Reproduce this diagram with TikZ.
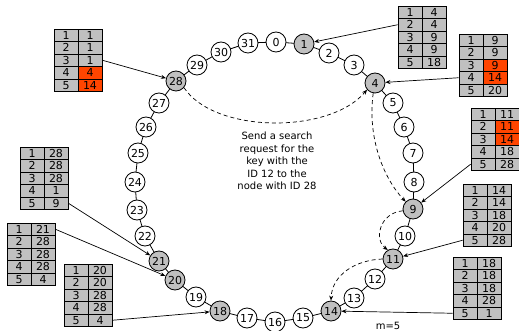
\documentclass[tikz,border=0pt]{standalone}
\usepackage{fontspec}
\setmainfont{DejaVu Sans}
\usetikzlibrary{arrows.meta,calc}
\definecolor{cgray}{HTML}{C0C0C0}
\definecolor{cred}{HTML}{FF4500}
\newcommand{\ftable}[4]{%
  \foreach \v/\c [count=\i] in {#4} {
    \node[cell] (#1l\i) at ({#2+12},{#3+(\i-0.5)*12.5}) {\i};
    \node[cell,fill=\c] (#1r\i) at ({#2+36},{#3+(\i-0.5)*12.5}) {\v};
  }%
}
\begin{document}
\begin{tikzpicture}[x=1pt,y=-1pt,
  font=\fontsize{10}{12}\selectfont,
  ring/.style={circle,draw,line width=0.8pt,minimum size=20pt,inner sep=0pt,fill=white,font=\fontsize{11}{12}\selectfont},
  act/.style={ring,fill=cgray},
  cell/.style={rectangle,draw,line width=0.8pt,minimum width=24pt,minimum height=12.5pt,inner sep=0pt,fill=cgray,font=\fontsize{11}{12}\selectfont},
  link/.style={line width=0.8pt},
  ptr/.style={line width=0.7pt,-{Stealth[length=5pt,width=4pt]}},
  hop/.style={line width=0.7pt,dash pattern=on 4pt off 3pt,-{Stealth[length=5pt,width=4pt]}}]
\useasboundingbox (0,0) rectangle (519,331);
% ring positions
\foreach \n/\x/\y in {0/276/42,1/304/44,2/329/53,3/354/65,4/375/83,5/393/103,6/404/127,7/413/153,
  8/414/182,9/413/209,10/405/236,11/393/259,12/375/279,13/354/298,14/331/311,15/303/318,
  16/275/322,17/247/318,18/220/311,19/196/297,20/175/280,21/159/261,22/145/236,23/137/210,
  24/135/182,25/138/153,26/146/127,27/159/103,28/176/81,29/197/65,30/221/52,31/248/43}
  {\coordinate (p\n) at (\x,\y);}
\foreach \i [evaluate=\i as \j using {int(mod(\i+1,32))}] in {0,...,31}
  {\draw[link] (p\i) -- (p\j);}
\foreach \n in {0,2,3,5,6,7,8,10,12,13,15,16,17,19,22,23,24,25,26,27,29,30,31}
  {\node[ring] (n\n) at (p\n) {\n};}
\foreach \n in {1,4,9,11,14,18,20,21,28}
  {\node[act] (n\n) at (p\n) {\n};}
% finger tables
\ftable{ta}{398}{6}{4/cgray,4/cgray,9/cgray,9/cgray,18/cgray}
\ftable{tb}{459}{34}{9/cgray,9/cgray,9/cred,14/cred,20/cgray}
\ftable{tc}{471}{108}{11/cgray,11/cred,14/cred,18/cgray,28/cgray}
\ftable{td}{463}{184}{14/cgray,14/cgray,18/cgray,20/cgray,28/cgray}
\ftable{te}{453}{257}{18/cgray,18/cgray,18/cgray,28/cgray,1/cgray}
\ftable{tf}{54}{29}{1/cgray,1/cgray,1/cgray,4/cred,14/cred}
\ftable{tg}{20}{147}{28/cgray,28/cgray,28/cgray,1/cgray,9/cgray}
\ftable{th}{7}{223}{21/cgray,28/cgray,28/cgray,28/cgray,4/cgray}
\ftable{ti}{64}{264}{20/cgray,20/cgray,28/cgray,28/cgray,4/cgray}
% table pointers
\draw[ptr] (tal2.west) -- (n1);
\draw[ptr] (tbl4.west) -- (n4);
\draw[ptr] (tcl5.west) -- (n9);
\draw[ptr] (tdl5.west) -- (n11);
\draw[ptr] (tel5.west) -- (n14);
\draw[ptr] (tfr3.east) -- (n28);
\draw[ptr] (tgr5.east) -- (n21);
\draw[ptr] (thr1.east) -- (n20);
\draw[ptr] (tir5.east) -- (n18);
% lookup hops
\draw[hop] (n28.-40) .. controls (215,134) and (330,134) .. (n4.-140);
\draw[hop] (n4.-100) .. controls (367,140) and (385,180) .. (n9.135);
\draw[hop] (n9.190) .. controls (379,213) and (374,240) .. (n11.120);
\draw[hop] (n11.180) .. controls (355,260) and (332,275) .. (n14.90);
% text
\node[align=center,font=\fontsize{10}{12.5}\selectfont] (msg) at (277,161)
  {Send a search\\request for the\\key with the\\ID 12 to the\\node with ID 28};
\node (m) at (388,326) {m=5};
\end{tikzpicture}
\end{document}
